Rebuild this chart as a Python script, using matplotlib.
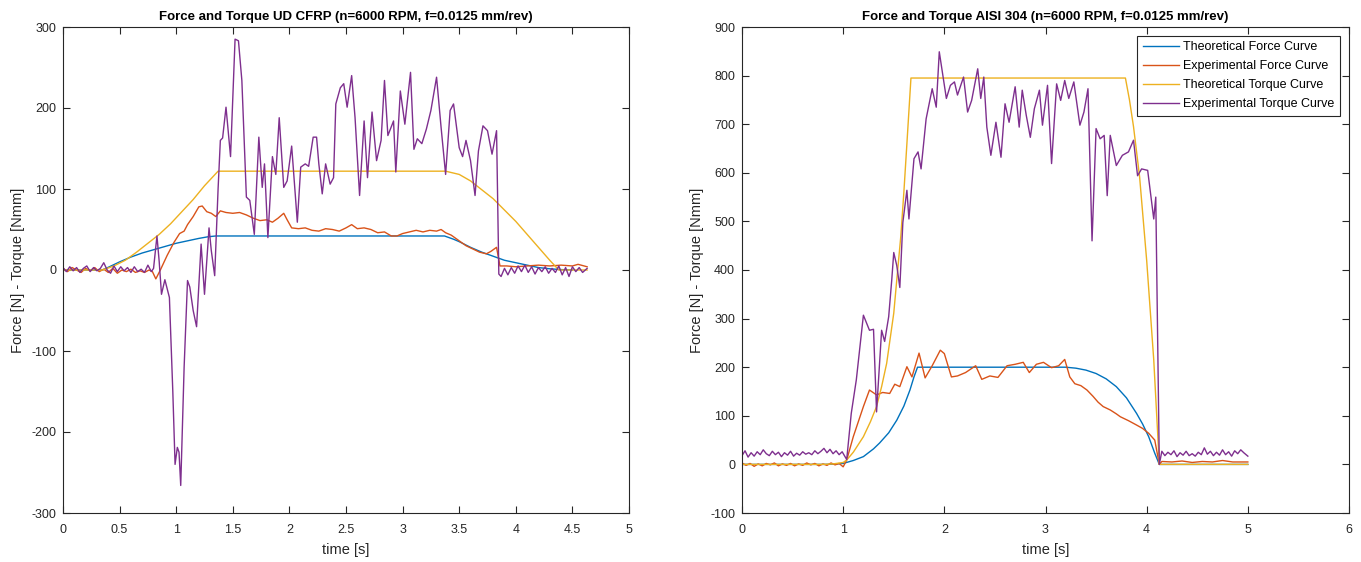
import matplotlib
matplotlib.use("Agg")
import matplotlib.pyplot as plt

# ---------------- Data: left chart (UD CFRP) ----------------
L_theo_force_t = [0.0, 0.35, 0.5, 0.6, 0.7, 0.8, 0.9, 1.0, 1.1, 1.2, 1.28, 1.35, 3.37, 3.45, 3.5, 3.6, 3.7, 3.8, 3.9, 4.0, 4.1, 4.2, 4.3, 4.4, 4.5]
L_theo_force_v = [0, 0, 10, 16, 21, 25, 29, 33, 36, 39, 41, 42, 42, 38, 35, 28, 22, 17, 12, 9, 6, 3, 1.5, 0.5, 0]

L_theo_torque_t = [0.0, 0.35, 0.45, 0.55, 0.65, 0.75, 0.85, 0.95, 1.05, 1.15, 1.25, 1.37, 3.38, 3.5, 3.6, 3.7, 3.8, 3.9, 4.0, 4.1, 4.2, 4.3, 4.38, 4.63]
L_theo_torque_v = [0, 0, 5, 12, 22, 33, 44, 57, 72, 87, 104, 122, 122, 118, 110, 99, 88, 74, 60, 44, 28, 12, 0, 0]

L_exp_force_t = [0.00, 0.04, 0.08, 0.12, 0.16, 0.20, 0.24, 0.28, 0.32, 0.36, 0.40, 0.44, 0.48, 0.52, 0.56,
                 0.60, 0.64, 0.68, 0.72, 0.76, 0.79, 0.82, 0.86, 0.92, 0.98, 1.03, 1.07, 1.10, 1.15, 1.20,
                 1.23, 1.27, 1.31, 1.35, 1.39, 1.44, 1.50, 1.56, 1.62, 1.68, 1.74, 1.80, 1.85, 1.90, 1.95,
                 1.98, 2.02, 2.08, 2.14, 2.20, 2.26, 2.32, 2.38, 2.44, 2.50, 2.55, 2.60, 2.66, 2.72, 2.78,
                 2.84, 2.90, 2.95, 3.00, 3.06, 3.12, 3.18, 3.24, 3.30, 3.34, 3.38, 3.43, 3.50, 3.56, 3.62,
                 3.68, 3.74, 3.78, 3.83, 3.86, 3.92, 4.00, 4.10, 4.20, 4.30, 4.40, 4.50, 4.55, 4.63]
L_exp_force_v = [2, -2, 3, 0, -3, 2, -1, 3, -2, 1, -3, 2, -4, 0, -2,
                 1, -3, -1, -3, 0, -2, -11, 0, 18, 34, 45, 48, 56, 66, 78,
                 79, 72, 70, 66, 73, 71, 70, 71, 68, 64, 61, 62, 59, 64, 70,
                 62, 52, 51, 52, 49, 48, 51, 50, 48, 52, 56, 51, 52, 50, 46,
                 47, 42, 42, 45, 47, 49, 47, 49, 48, 50, 46, 43, 36, 30, 26,
                 22, 20, 23, 28, 5, 5, 4, 5, 6, 5, 6, 5, 7, 4]

L_exp_torque_t = [0.00, 0.03, 0.06, 0.09, 0.12, 0.15, 0.18, 0.21, 0.24, 0.27, 0.30, 0.33, 0.36, 0.39, 0.42,
                  0.45, 0.48, 0.51, 0.54, 0.57, 0.60, 0.63, 0.66, 0.69, 0.72, 0.75, 0.78, 0.80, 0.83, 0.85,
                  0.87, 0.90, 0.94, 0.97, 0.99, 1.01, 1.025, 1.04, 1.07, 1.10, 1.12, 1.15, 1.18, 1.22, 1.25,
                  1.29, 1.31, 1.34, 1.37, 1.39, 1.41, 1.44, 1.48, 1.52, 1.55, 1.58, 1.62, 1.65, 1.69, 1.73,
                  1.76, 1.78, 1.81, 1.85, 1.88, 1.91, 1.95, 1.98, 2.02, 2.07, 2.10, 2.14, 2.17, 2.21, 2.24,
                  2.26, 2.29, 2.32, 2.36, 2.39, 2.41, 2.45, 2.48, 2.51, 2.55, 2.58, 2.62, 2.66, 2.69, 2.73,
                  2.77, 2.81, 2.84, 2.87, 2.92, 2.94, 2.98, 3.02, 3.07, 3.10, 3.13, 3.17, 3.21, 3.25, 3.30,
                  3.34, 3.38, 3.42, 3.45, 3.50, 3.53, 3.56, 3.60, 3.64, 3.67, 3.71, 3.75, 3.79, 3.83, 3.85,
                  3.87, 3.90, 3.93, 3.96, 3.99, 4.02, 4.05, 4.08, 4.11, 4.14, 4.17, 4.20, 4.23, 4.26, 4.29,
                  4.32, 4.35, 4.38, 4.41, 4.44, 4.47, 4.50, 4.53, 4.56, 4.59, 4.63]
L_exp_torque_v = [3, -2, 4, -1, 3, -3, 2, 5, -2, 3, -1, 2, 9, 0, -4,
                  5, -2, 4, -1, 3, -3, 4, -2, 1, -3, 6, -2, 2, 42, 10,
                  -30, -12, -34, -150, -240, -219, -225, -266, -120, -13, -21, -50, -70, 32, -30,
                  52, 24, -7, 100, 160, 163, 201, 140, 285, 283, 234, 90, 86, 44, 164,
                  102, 131, 40, 140, 118, 188, 102, 110, 153, 59, 127, 131, 128, 164, 164,
                  131, 94, 131, 106, 114, 205, 225, 230, 201, 240, 188, 92, 184, 114, 195,
                  135, 160, 234, 166, 184, 121, 221, 180, 244, 149, 162, 156, 174, 197, 238,
                  176, 118, 197, 205, 151, 140, 160, 135, 92, 147, 178, 172, 143, 172, -5,
                  -8, 2, -6, 3, -4, 5, -2, 6, -3, 4, -5, 3, -2, 4, -4,
                  2, -3, 5, -6, 3, -8, 4, -2, 3, -3, 2]

# ---------------- Data: right chart (AISI 304) ----------------
R_theo_force_t = [0.0, 0.8, 0.9, 1.0, 1.1, 1.2, 1.3, 1.36, 1.45, 1.53, 1.6, 1.66, 1.7, 1.735,
                  3.2, 3.3, 3.4, 3.5, 3.6, 3.7, 3.8, 3.9, 3.96, 4.02, 4.08, 4.125, 5.0]
R_theo_force_v = [0, 0, 0.5, 2, 8, 16, 32, 44, 65, 91, 120, 153, 180, 200,
                  200, 198, 194, 187, 176, 160, 137, 105, 83, 57, 23, 0, 0]

R_theo_torque_t = [0.0, 0.8, 0.9, 1.0, 1.035, 1.1, 1.2, 1.27, 1.33, 1.38, 1.43, 1.5, 1.53, 1.57, 1.6, 1.63, 1.67,
                   3.79, 3.83, 3.87, 3.93, 4.0, 4.07, 4.125, 5.0]
R_theo_torque_v = [0, 0, 1, 4, 9, 25, 57, 88, 119, 160, 208, 311, 380, 470, 560, 660, 795,
                   795, 750, 695, 592, 420, 215, 0, 0]

R_exp_force_t = [0.00, 0.04, 0.08, 0.12, 0.16, 0.20, 0.24, 0.28, 0.32, 0.36, 0.40, 0.44, 0.48, 0.52, 0.56,
                 0.60, 0.64, 0.68, 0.72, 0.76, 0.80, 0.84, 0.88, 0.92, 0.96, 1.00, 1.035, 1.10, 1.20, 1.26,
                 1.33, 1.39, 1.46, 1.51, 1.56, 1.63, 1.68, 1.75, 1.81, 1.88, 1.96, 2.00, 2.07, 2.13, 2.21,
                 2.31, 2.37, 2.45, 2.53, 2.62, 2.70, 2.78, 2.84, 2.91, 2.98, 3.06, 3.13, 3.19, 3.24, 3.29,
                 3.35, 3.41, 3.47, 3.52, 3.57, 3.64, 3.70, 3.74, 3.82, 3.90, 3.96, 4.02, 4.08, 4.125, 4.15,
                 4.25, 4.35, 4.45, 4.55, 4.65, 4.75, 4.85, 5.00]
R_exp_force_v = [3, -2, 2, -4, 1, -3, 2, -1, 3, -3, 1, -2, 2, -3, 1,
                 -2, 3, -1, 2, -3, 1, -2, 3, -1, 2, -5, 9, 57, 119, 153,
                 143, 148, 146, 165, 160, 201, 180, 229, 178, 203, 235, 228, 180, 182, 189,
                 203, 175, 182, 179, 203, 206, 210, 189, 206, 210, 199, 203, 216, 180, 166,
                 162, 153, 140, 128, 119, 112, 104, 98, 90, 81, 74, 64, 50, 0, 6,
                 5, 7, 4, 6, 5, 8, 5, 5]

R_exp_torque_t = [0.00, 0.03, 0.06, 0.09, 0.12, 0.15, 0.18, 0.21, 0.24, 0.27, 0.30, 0.33, 0.36, 0.39, 0.42,
                  0.45, 0.48, 0.51, 0.54, 0.57, 0.60, 0.63, 0.66, 0.69, 0.72, 0.75, 0.78, 0.81, 0.84, 0.87,
                  0.90, 0.93, 0.96, 0.99, 1.035, 1.08, 1.13, 1.20, 1.26, 1.30, 1.33, 1.38, 1.41, 1.45, 1.48,
                  1.50, 1.53, 1.56, 1.59, 1.63, 1.65, 1.70, 1.74, 1.77, 1.82, 1.88, 1.92, 1.95, 1.98,
                  2.02, 2.06, 2.10, 2.13, 2.19, 2.23, 2.27, 2.33, 2.36, 2.39, 2.42, 2.46, 2.51, 2.56, 2.60,
                  2.64, 2.70, 2.74, 2.77, 2.81, 2.85, 2.89, 2.94, 2.97, 3.02, 3.06, 3.11, 3.15, 3.19, 3.23,
                  3.28, 3.34, 3.38, 3.42, 3.46, 3.50, 3.54, 3.58, 3.61, 3.64, 3.70, 3.76, 3.82, 3.87, 3.91,
                  3.95, 4.01, 4.07, 4.09, 4.125, 4.15, 4.18, 4.21, 4.24, 4.27, 4.30, 4.33, 4.36, 4.39, 4.42,
                  4.45, 4.48, 4.51, 4.54, 4.57, 4.60, 4.63, 4.66, 4.69, 4.72, 4.75, 4.78, 4.81, 4.84, 4.87,
                  4.90, 4.93, 4.96, 5.00]
R_exp_torque_v = [18, 28, 15, 24, 17, 26, 20, 30, 22, 18, 27, 20, 25, 16, 24,
                  19, 27, 17, 23, 19, 26, 21, 24, 20, 28, 22, 27, 33, 24, 31,
                  22, 28, 20, 26, 10, 105, 174, 307, 276, 278, 108, 276, 253, 304, 379,
                  436, 409, 364, 498, 564, 505, 629, 643, 608, 711, 773, 735, 849, 808,
                  753, 780, 787, 760, 797, 725, 749, 814, 753, 797, 694, 636, 704, 632, 742,
                  704, 777, 694, 770, 718, 673, 732, 770, 698, 780, 619, 783, 749, 790, 753,
                  787, 698, 725, 773, 460, 691, 670, 677, 553, 677, 615, 636, 643, 667, 594,
                  608, 605, 505, 550, 0, 27, 18, 25, 20, 28, 16, 24, 19, 27, 18,
                  22, 17, 25, 20, 34, 21, 27, 18, 25, 19, 30, 20, 26, 17, 28,
                  22, 30, 24, 17]

series_labels = ["Theoretical Force Curve", "Experimental Force Curve",
                 "Theoretical Torque Curve", "Experimental Torque Curve"]
colors = ["#0072BD", "#D95319", "#EDB120", "#7E2F8E"]

plt.rcParams['font.family'] = ['Liberation Sans', 'DejaVu Sans']

fig = plt.figure(figsize=(13.61, 5.62), dpi=100)
ax1 = fig.add_axes([63/1361, 1-513/562, (629-63)/1361, (513-27)/562])
ax2 = fig.add_axes([742/1361, 1-513/562, (1349-742)/1361, (513-27)/562])

axcol = "#262626"

def style(ax, xlim, ylim, xticks, yticks, xtlabels, ytlabels, title):
    ax.set_xlim(*xlim)
    ax.set_ylim(*ylim)
    ax.set_xticks(xticks)
    ax.set_yticks(yticks)
    ax.set_xticklabels(xtlabels)
    ax.set_yticklabels(ytlabels)
    ax.tick_params(axis='both', direction='in', length=5, width=0.8, top=True, right=True,
                   labelsize=9, colors=axcol)
    ax.tick_params(axis='x', pad=8)
    ax.tick_params(axis='y', pad=5)
    for s in ax.spines.values():
        s.set_color(axcol)
        s.set_linewidth(0.8)
    ax.set_xlabel("time [s]", fontsize=10.5, color=axcol, labelpad=5)
    ax.set_ylabel("Force [N] - Torque [Nmm]", fontsize=10.5, color=axcol, labelpad=4)
    ax.set_title(title, fontsize=9.5, fontweight='bold', color='black', pad=5)

lw = 1.0
for ax, data in [(ax1, [(L_theo_force_t, L_theo_force_v), (L_exp_force_t, L_exp_force_v),
                        (L_theo_torque_t, L_theo_torque_v), (L_exp_torque_t, L_exp_torque_v)]),
                 (ax2, [(R_theo_force_t, R_theo_force_v), (R_exp_force_t, R_exp_force_v),
                        (R_theo_torque_t, R_theo_torque_v), (R_exp_torque_t, R_exp_torque_v)])]:
    for (t, v), c, lab in zip(data, colors, series_labels):
        ax.plot(t, v, color=c, lw=lw, label=lab)

L_xticks = [0, 0.5, 1, 1.5, 2, 2.5, 3, 3.5, 4, 4.5, 5]
L_xtlabels = ["0", "0.5", "1", "1.5", "2", "2.5", "3", "3.5", "4", "4.5", "5"]
L_yticks = [-300, -200, -100, 0, 100, 200, 300]
R_xticks = [0, 1, 2, 3, 4, 5, 6]
R_yticks = [-100, 0, 100, 200, 300, 400, 500, 600, 700, 800, 900]

style(ax1, (0, 5), (-300, 300), L_xticks, L_yticks, L_xtlabels, [str(v) for v in L_yticks],
      "Force and Torque UD CFRP (n=6000 RPM, f=0.0125 mm/rev)")
style(ax2, (0, 6), (-100, 900), R_xticks, R_yticks, [str(v) for v in R_xticks], [str(v) for v in R_yticks],
      "Force and Torque AISI 304 (n=6000 RPM, f=0.0125 mm/rev)")

leg = ax2.legend(loc='upper right', fontsize=9, frameon=True, fancybox=False,
                 edgecolor=axcol, framealpha=1, handlelength=2.9, handletextpad=0.35,
                 borderpad=0.45, labelspacing=0.55, borderaxespad=0.7)
leg.get_frame().set_linewidth(0.8)

fig.savefig("out.png", dpi=100)
